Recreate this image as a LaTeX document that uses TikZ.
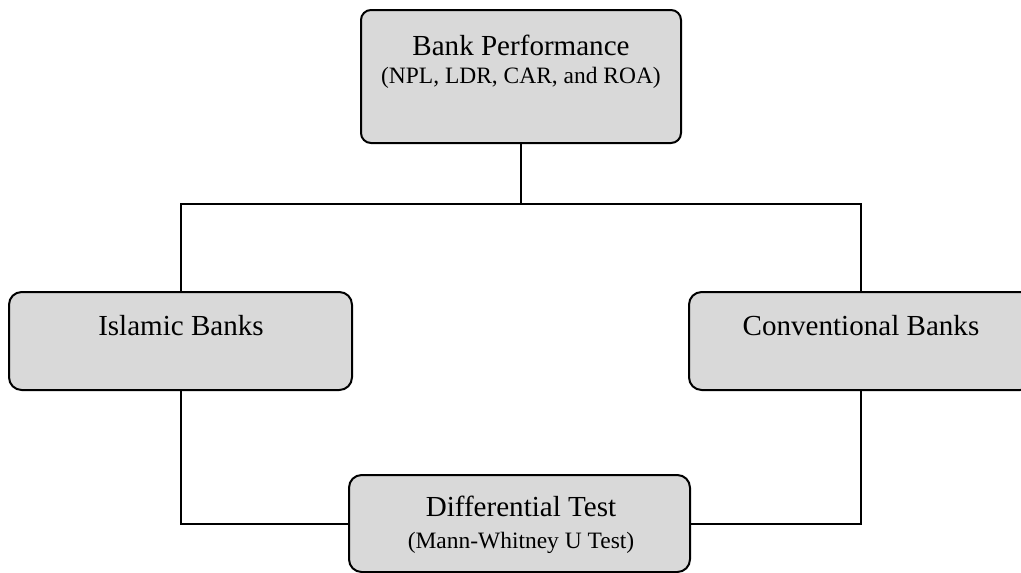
\documentclass[tikz,border=0pt]{standalone}
\usepackage{fontspec}
\setmainfont{Liberation Serif}
\begin{document}
\begin{tikzpicture}[x=0.75pt, y=-0.75pt,
  box/.style={draw=black, line width=1.5pt, fill=boxgray, rounded corners=9.5pt,
              inner sep=0pt, outer sep=0pt},
  title/.style={anchor=base, inner sep=0pt, font=\fontsize{21.8}{26}\selectfont},
  subtitle/.style={anchor=base, inner sep=0pt, font=\fontsize{17.6}{21}\selectfont},
  link/.style={draw=black, line width=1.5pt}]
\definecolor{boxgray}{HTML}{D9D9D9}
\useasboundingbox (0,0) rectangle (1021,572);
\clip (0,0) rectangle (1021,572);

% boxes
\node[box, rounded corners=7.5pt, minimum width=320*0.75pt, minimum height=133*0.75pt] (bp) at (521,76.5) {};
\node[box, minimum width=343*0.75pt, minimum height=98*0.75pt] (isl) at (180.5,341) {};
\node[box, minimum width=344*0.75pt, minimum height=98*0.75pt] (conv) at (861,341) {};
\node[box, minimum width=341*0.75pt, minimum height=97*0.75pt] (diff) at (519.5,523.5) {};

% texts
\node[title] (bpt) at (521,55) {Bank Performance};
\node[subtitle] (bps) at (521,83) {(NPL, LDR, CAR, and ROA)};
\node[title] (islt) at (181,335) {Islamic Banks};
\node[title] (convt) at (861,335) {Conventional Banks};
\node[title] (difft) at (521,516) {Differential Test};
\node[subtitle] (diffs) at (521,548) {(Mann-Whitney U Test)};

% connectors
\coordinate (split) at (521,204);
\draw[link] (bp.south) -- (split);
\draw[link] (isl.north) |- (split);
\draw[link] (conv.north) |- (split);
\draw[link] (isl.south) |- (diff.west);
\draw[link] (conv.south) |- (diff.east);
\end{tikzpicture}
\end{document}
